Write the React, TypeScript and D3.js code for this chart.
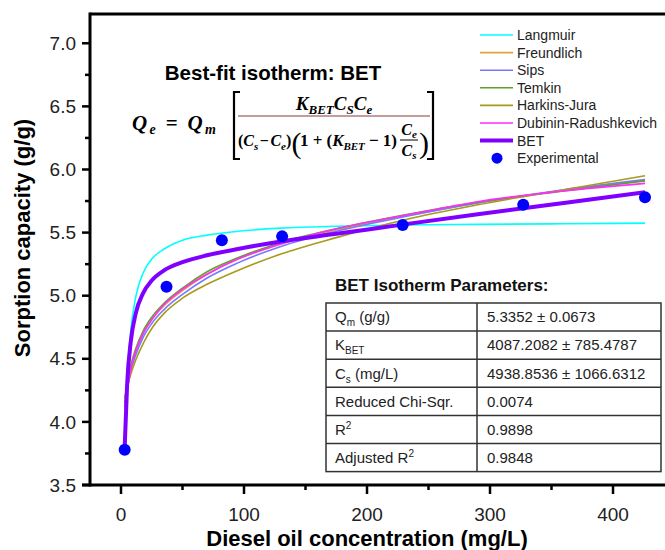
import React from 'react';
import * as d3 from 'd3';

const concGrid = [3, 5, 8, 12, 18, 25, 35, 50, 70, 95, 130, 175, 230, 290, 360, 426];

const langmuirQ = [3.76, 4.33, 4.73, 4.99, 5.18, 5.29, 5.37, 5.44, 5.48, 5.51, 5.535, 5.55, 5.56, 5.565, 5.57, 5.575];
const freundlichQ = [4.10, 4.26, 4.42, 4.56, 4.70, 4.81, 4.92, 5.04, 5.17, 5.29, 5.41, 5.52, 5.63, 5.735, 5.835, 5.915];
const sipsQ = [4.12, 4.25, 4.40, 4.53, 4.67, 4.78, 4.89, 5.01, 5.14, 5.26, 5.39, 5.51, 5.625, 5.735, 5.84, 5.92];
const temkinQ = [4.15, 4.30, 4.45, 4.58, 4.72, 4.83, 4.94, 5.06, 5.19, 5.30, 5.42, 5.53, 5.64, 5.74, 5.83, 5.91];
const harkinsQ = [4.19, 4.28, 4.38, 4.49, 4.62, 4.74, 4.86, 4.98, 5.09, 5.20, 5.33, 5.46, 5.60, 5.72, 5.84, 5.95];
const dubininQ = [4.12, 4.25, 4.42, 4.56, 4.70, 4.81, 4.93, 5.05, 5.17, 5.29, 5.41, 5.53, 5.635, 5.745, 5.83, 5.89];
const betQ = [3.80, 4.30, 4.64, 4.86, 5.02, 5.12, 5.20, 5.265, 5.32, 5.37, 5.43, 5.49, 5.565, 5.645, 5.735, 5.82];

// experimental points
const expConc = [3, 37, 82, 131, 229, 327, 426];
const expQ = [3.78, 5.07, 5.44, 5.47, 5.56, 5.72, 5.78];

const seriesNames = ['Langmuir', 'Freundlich', 'Sips', 'Temkin', 'Harkins-Jura', 'Dubinin-Radushkevich', 'BET'];
const seriesValues = [langmuirQ, freundlichQ, sipsQ, temkinQ, harkinsQ, dubininQ, betQ];
const seriesColors = ['#00ffff', '#e3a13a', '#7878ff', '#5ea22a', '#a89a1a', '#ff2cff', '#8000ff'];

const xTicks = [0, 100, 200, 300, 400];
const xMinor = [50, 150, 250, 350];
const yTicks = [3.5, 4.0, 4.5, 5.0, 5.5, 6.0, 6.5, 7.0];
const yMinor = [3.75, 4.25, 4.75, 5.25, 5.75, 6.25, 6.75];

const tableRows = [
  ['Q', 'm', ' (g/g)', '5.3352 ± 0.0673'],
  ['K', 'BET', '', '4087.2082 ± 785.4787'],
  ['C', 's', ' (mg/L)', '4938.8536 ± 1066.6312'],
  ['Reduced Chi-Sqr.', '', '', '0.0074'],
  ['R', '2', '', '0.9898'],
  ['Adjusted R', '2', '', '0.9848'],
];

const W = 665, H = 550;
const left = 90, right = 668, top = 14, bottom = 485;

const sans = 'Liberation Sans, Arial, sans-serif';
const serif = 'Liberation Serif, Times New Roman, serif';

const App = () => {
  const x = d3.scaleLinear().domain([-25.2, 444.7]).range([left, right]);
  const y = d3.scaleLinear().domain([3.5, 7.232]).range([bottom, top]);

  const line = d3.line<number>()
    .x((d, i) => x(concGrid[i]))
    .y(d => y(d))
    .curve(d3.curveMonotoneX);

  // legend
  const legX = 480, legY0 = 35, legDy = 17.6;
  // table
  const tL = 326, tR = 661, tMid = 477, tTop = 303, rowH = 28.1;
  // equation vertical anchors
  const eqNum = 110, eqBar = 116, eqDen = 146;

  return (
    <svg width={W} height={H} style={{ position: 'absolute', left: 0, top: 0, background: '#fff' }}
      fontFamily={sans}>
      <defs>
        <clipPath id="plotClip">
          <rect x={left} y={top} width={right - left} height={bottom - top} />
        </clipPath>
      </defs>

      {/* curves */}
      <g clipPath="url(#plotClip)">
        {seriesValues.map((vals, i) => (
          <path key={seriesNames[i]} d={line(vals) || ''} fill="none"
            stroke={seriesColors[i]} strokeWidth={seriesNames[i] === 'BET' ? 4 : 1.6} />
        ))}
        {expConc.map((c, i) => (
          <circle key={i} cx={x(c)} cy={y(expQ[i])} r={6} fill="#0000ff" />
        ))}
      </g>

      {/* frame / axes */}
      <line x1={left} x2={W + 5} y1={top} y2={top} stroke="#000" strokeWidth={3} />
      <line x1={left} x2={left} y1={top - 1.5} y2={bottom + 1.5} stroke="#000" strokeWidth={3} />
      <line x1={left - 8} x2={W + 5} y1={bottom} y2={bottom} stroke="#000" strokeWidth={3} />

      {yTicks.map(t => (
        <g key={'y' + t}>
          <line x1={left - 8} x2={left} y1={y(t)} y2={y(t)} stroke="#000" strokeWidth={2.5} />
          <text x={left - 14} y={y(t)} dy="0.35em" textAnchor="end" fontSize={19} fill="#222">{t.toFixed(1)}</text>
        </g>
      ))}
      {yMinor.map(t => (
        <line key={'ym' + t} x1={left - 5} x2={left} y1={y(t)} y2={y(t)} stroke="#000" strokeWidth={2.5} />
      ))}
      {xTicks.map(t => (
        <g key={'x' + t}>
          <line x1={x(t)} x2={x(t)} y1={bottom} y2={bottom + 9} stroke="#000" strokeWidth={2.5} />
          <text x={x(t)} y={521} textAnchor="middle" fontSize={19} fill="#222">{t}</text>
        </g>
      ))}
      {xMinor.map(t => (
        <line key={'xm' + t} x1={x(t)} x2={x(t)} y1={bottom} y2={bottom + 5} stroke="#000" strokeWidth={2.5} />
      ))}

      {/* axis titles */}
      <text x={367} y={546} textAnchor="middle" fontSize={22} fontWeight="bold">Diesel oil concentration (mg/L)</text>
      <text transform="translate(30,238) rotate(-90)" textAnchor="middle" fontSize={22} fontWeight="bold">Sorption capacity (g/g)</text>

      {/* title */}
      <text x={273} y={80} textAnchor="middle" fontSize={20.5} fontWeight="bold">Best-fit isotherm: BET</text>

      {/* BET equation */}
      <g fontFamily={serif} fontWeight="bold" fontStyle="italic" fill="#000">
        <text x={132} y={130} fontSize={21} textLength={84} lengthAdjust="spacing">Q<tspan fontSize={14} dy={4}>e</tspan><tspan fontStyle="normal" dy={-4}> = </tspan>Q<tspan fontSize={14} dy={4}>m</tspan></text>
        <path d="M240,92 H234 V159 H240" fill="none" stroke="#000" strokeWidth={2.2} />
        <path d="M427,92 H433 V159 H427" fill="none" stroke="#000" strokeWidth={2.2} />
        <text x={334} y={eqNum} textAnchor="middle" fontSize={19}>K<tspan fontSize={13} dy={4}>BET</tspan><tspan dy={-4}>C</tspan><tspan fontSize={13} dy={4}>S</tspan><tspan dy={-4}>C</tspan><tspan fontSize={13} dy={4}>e</tspan></text>
        <line x1={238} x2={430} y1={eqBar} y2={eqBar} stroke="#8c3b3b" strokeWidth={1.2} />
        <text x={238} y={eqDen} fontSize={16}><tspan fontStyle="normal">(</tspan>C<tspan fontSize={11} dy={4}>s</tspan><tspan fontStyle="normal" dx={1.5} dy={-4}>−</tspan><tspan dx={1.5}>C</tspan><tspan fontSize={11} dy={4}>e</tspan><tspan fontStyle="normal" dy={-4}>)</tspan></text>
        <text x={291.5} y={eqDen + 7} fontSize={30} fontStyle="normal" fontWeight="normal">(</text>
        <text x={300} y={eqDen} fontSize={17} textLength={97} lengthAdjust="spacing"><tspan fontStyle="normal">1 + (</tspan>K<tspan fontSize={11} dy={4}>BET</tspan><tspan fontStyle="normal" dy={-4}> − 1)</tspan></text>
        <text x={409} y={eqDen - 11} textAnchor="middle" fontSize={16}>C<tspan fontSize={11} dy={3}>e</tspan></text>
        <line x1={400} x2={418} y1={eqDen - 6} y2={eqDen - 6} stroke="#000" strokeWidth={1} />
        <text x={409} y={eqDen + 10} textAnchor="middle" fontSize={16}>C<tspan fontSize={11} dy={3}>s</tspan></text>
        <text x={419} y={eqDen + 7} fontSize={30} fontStyle="normal" fontWeight="normal">)</text>
      </g>

      {/* legend */}
      {seriesNames.map((n, i) => (
        <g key={'leg' + n}>
          <line x1={legX} x2={legX + 33} y1={legY0 + i * legDy} y2={legY0 + i * legDy}
            stroke={seriesColors[i]} strokeWidth={n === 'BET' ? 4 : 1.6} />
          <text x={legX + 37} y={legY0 + i * legDy} dy="0.35em" fontSize={14} fill="#222">{n}</text>
        </g>
      ))}
      <circle cx={legX + 17} cy={legY0 + 7 * legDy} r={5.5} fill="#0000ff" />
      <text x={legX + 37} y={legY0 + 7 * legDy} dy="0.35em" fontSize={14} fill="#222">Experimental</text>

      {/* parameter table */}
      <text x={335} y={291} fontSize={17} fontWeight="bold" fill="#111">BET Isotherm Parameters:</text>
      <rect x={tL} y={tTop} width={tR - tL} height={rowH * tableRows.length} fill="#fff" stroke="#333" strokeWidth={1.5} />
      <line x1={tMid} x2={tMid} y1={tTop} y2={tTop + rowH * tableRows.length} stroke="#333" strokeWidth={1.5} />
      {tableRows.map((r, i) => {
        const cy = tTop + rowH * i + rowH / 2;
        const sup = r[0] === 'R' || r[0] === 'Adjusted R';
        return (
          <g key={'row' + i}>
            {i > 0 && <line x1={tL} x2={tR} y1={tTop + rowH * i} y2={tTop + rowH * i} stroke="#333" strokeWidth={1.5} />}
            <text x={335} y={cy} dy="0.35em" fontSize={15} fill="#222">
              {r[0]}
              {r[1] && <tspan fontSize={10} dy={sup ? -6 : 4}>{r[1]}</tspan>}
              {r[2] && <tspan dy={sup ? 6 : -4}>{r[2]}</tspan>}
            </text>
            <text x={487} y={cy} dy="0.35em" fontSize={15} fill="#222">{r[3]}</text>
          </g>
        );
      })}
    </svg>
  );
};

export default App;
